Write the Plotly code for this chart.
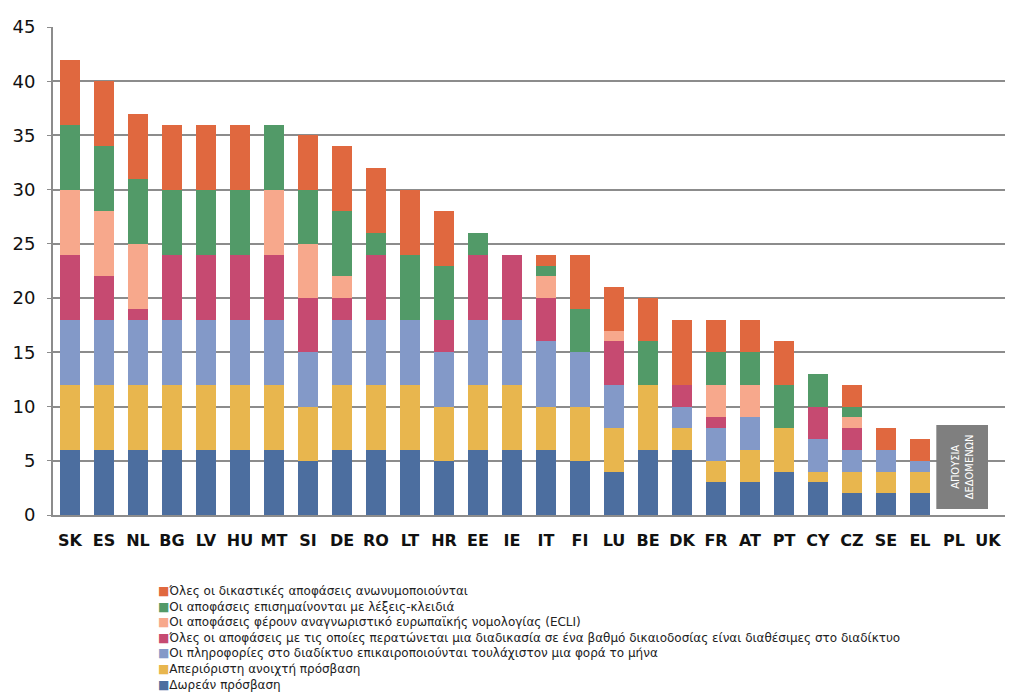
import plotly.graph_objects as go

countries = ["SK", "ES", "NL", "BG", "LV", "HU", "MT", "SI", "DE", "RO", "LT", "HR", "EE", "IE",
             "IT", "FI", "LU", "BE", "DK", "FR", "AT", "PT", "CY", "CZ", "SE", "EL", "PL", "UK"]

series_names = [
    "Δωρεάν πρόσβαση",
    "Απεριόριστη ανοιχτή πρόσβαση",
    "Οι πληροφορίες στο διαδίκτυο επικαιροποιούνται τουλάχιστον μια φορά το μήνα",
    "Όλες οι αποφάσεις με τις οποίες περατώνεται μια διαδικασία σε ένα βαθμό δικαιοδοσίας είναι διαθέσιμες στο διαδίκτυο",
    "Οι αποφάσεις φέρουν αναγνωριστικό ευρωπαϊκής νομολογίας (ECLI)",
    "Οι αποφάσεις επισημαίνονται με λέξεις-κλειδιά",
    "Όλες οι δικαστικές αποφάσεις ανωνυμοποιούνται",
]

free_access =   [6, 6, 6, 6, 6, 6, 6, 5, 6, 6, 6, 5, 6, 6, 6, 5, 4, 6, 6, 3, 3, 4, 3, 2, 2, 2, 0, 0]
unrestricted =  [6, 6, 6, 6, 6, 6, 6, 5, 6, 6, 6, 5, 6, 6, 4, 5, 4, 6, 2, 2, 3, 4, 1, 2, 2, 2, 0, 0]
monthly =       [6, 6, 6, 6, 6, 6, 6, 5, 6, 6, 6, 5, 6, 6, 6, 5, 4, 0, 2, 3, 3, 0, 3, 2, 2, 1, 0, 0]
all_decisions = [6, 4, 1, 6, 6, 6, 6, 5, 2, 6, 0, 3, 6, 6, 4, 0, 4, 0, 2, 1, 0, 0, 3, 2, 0, 0, 0, 0]
ecli =          [6, 6, 6, 0, 0, 0, 6, 5, 2, 0, 0, 0, 0, 0, 2, 0, 1, 0, 0, 3, 3, 0, 0, 1, 0, 0, 0, 0]
keywords =      [6, 6, 6, 6, 6, 6, 6, 5, 6, 2, 6, 5, 2, 0, 1, 4, 0, 4, 0, 3, 3, 4, 3, 1, 0, 0, 0, 0]
anonymised =    [6, 6, 6, 6, 6, 6, 0, 5, 6, 6, 6, 5, 0, 0, 1, 5, 4, 4, 6, 3, 3, 4, 0, 2, 2, 2, 0, 0]

series_values = [free_access, unrestricted, monthly, all_decisions, ecli, keywords, anonymised]
colors = ["#4C6E9F", "#E8B64E", "#8399C8", "#C64A71", "#F7A88C", "#529A68", "#E0683F"]

no_data_label = "ΑΠΟΥΣΙΑ<br>ΔΕΔΟΜΕΝΩΝ"

fig = go.Figure()
for name, vals, col in zip(series_names, series_values, colors):
    fig.add_trace(go.Bar(x=countries, y=vals, name=name, marker=dict(color=col, line=dict(width=0)),
                         showlegend=False))

# legend as text lines (top item first)
lines = []
for name, col in reversed(list(zip(series_names, colors))):
    lines.append(f"<span style='color:{col}'>■</span>{name}")
legend_text = "<br>".join(lines)

fig.add_annotation(xref="paper", yref="paper", x=(153 - 50) / 955, y=(515 - 582) / 488,
                   xanchor="left", yanchor="top", align="left", showarrow=False,
                   text=legend_text, font=dict(family="DejaVu Sans", size=12, color="#222222"))

# no-data box
fig.add_shape(type="rect", xref="x", yref="y", x0=25.48, x1=27.0, y0=0.55, y1=8.3,
              fillcolor="#7F7F7F", line=dict(color="#7F7F7F", width=0), layer="above")
fig.add_annotation(xref="x", yref="y", x=26.24, y=4.42, text=no_data_label, textangle=-90,
                   showarrow=False, font=dict(family="DejaVu Sans Condensed", size=11, color="white"))

fig.update_layout(
    barmode="stack",
    bargap=0.4,
    width=1024, height=694,
    margin=dict(l=50, r=19, t=27, b=179),
    plot_bgcolor="white", paper_bgcolor="white",
    font=dict(family="DejaVu Sans", color="#1a1a1a"),
    xaxis=dict(showline=True, linecolor="#8C8C8C", linewidth=2,
               tickfont=dict(size=16, family="DejaVu Sans", weight="bold", color="#111111"),
               tickangle=0, ticks="", ticklabelstandoff=10,
               categoryorder="array", categoryarray=countries),
    yaxis=dict(range=[0, 45], dtick=5, showgrid=True, gridcolor="#8C8C8C", gridwidth=2,
               showline=True, linecolor="#8C8C8C", linewidth=2, ticks="outside", ticklen=4, tickcolor="#8C8C8C",
               ticklabelstandoff=8,
               tickfont=dict(size=18, color="#111111"), zeroline=False),
)
fig.write_html("out.html")
